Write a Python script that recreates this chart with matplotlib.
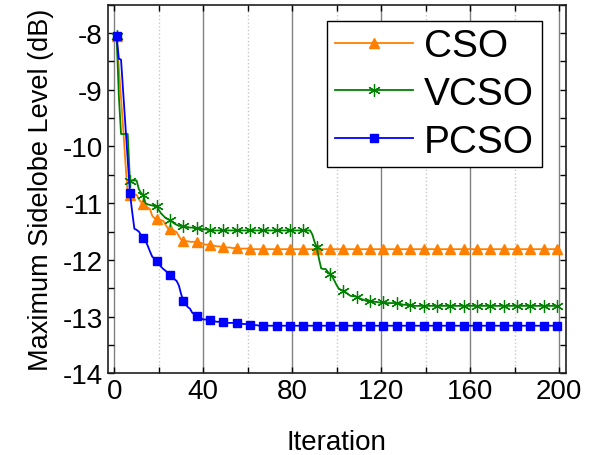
import numpy as np
import matplotlib
matplotlib.use('Agg')
import matplotlib.pyplot as plt
from matplotlib.ticker import MultipleLocator

plt.rcParams['font.family'] = ['Liberation Sans', 'DejaVu Sans']
plt.rcParams['axes.unicode_minus'] = False

# iterations 1..200
iterations = np.arange(1, 201)

# CSO convergence (dB)
cso = ([-8.05, -8.6, -9.16, -9.7, -10.3, -10.85, -10.85, -10.85, -10.85, -10.85,
        -10.93, -10.98, -11.02, -11.05, -11.08, -11.10, -11.22, -11.26, -11.28, -11.29,
        -11.30, -11.31, -11.38, -11.44, -11.45, -11.47, -11.49, -11.51, -11.58, -11.64,
        -11.66, -11.67, -11.67, -11.68, -11.68, -11.68, -11.68, -11.69, -11.70, -11.72,
        -11.73, -11.73, -11.73, -11.74, -11.75, -11.76, -11.76, -11.77, -11.77, -11.78,
        -11.78, -11.78, -11.79, -11.79, -11.79, -11.80, -11.80, -11.80, -11.80, -11.80,
        -11.80] + [-11.81] * 139)

# VCSO convergence (dB)
vcso = ([-8.05, -9.1, -9.78, -9.78, -9.78, -9.78, -10.6, -10.6, -10.6, -10.6,
         -10.75, -10.82, -10.86, -11.0, -11.02, -11.03, -11.04, -11.05, -11.05, -11.12,
         -11.18, -11.22, -11.26, -11.28, -11.30, -11.33, -11.36, -11.38, -11.40, -11.40,
         -11.41, -11.42, -11.42, -11.43, -11.43, -11.44, -11.44, -11.45, -11.45, -11.46,
         -11.46, -11.47, -11.47] + [-11.48] * 45 +
        [-11.55, -11.68, -11.78, -11.98, -12.15, -12.16, -12.16, -12.21, -12.25, -12.30,
         -12.37, -12.45, -12.51, -12.53, -12.54, -12.57, -12.60, -12.63, -12.64, -12.64,
         -12.65, -12.67, -12.69, -12.70, -12.72, -12.73, -12.73, -12.74, -12.74, -12.74,
         -12.75, -12.75, -12.75, -12.76, -12.76, -12.76, -12.76, -12.76, -12.76, -12.77,
         -12.78, -12.79, -12.79, -12.80, -12.80] + [-12.81] * 67)

# PCSO convergence (dB)
pcso = ([-8.05, -8.45, -8.47, -9.05, -9.65, -10.25, -10.82, -11.15, -11.45, -11.47,
         -11.50, -11.56, -11.62, -11.66, -11.75, -11.85, -11.94, -11.98, -12.01, -12.06,
         -12.12, -12.16, -12.19, -12.23, -12.26, -12.30, -12.34, -12.37, -12.45, -12.60,
         -12.72, -12.78, -12.83, -12.86, -12.93, -12.96, -12.98, -13.01, -13.03, -13.05,
         -13.05, -13.05, -13.06, -13.07, -13.08, -13.09, -13.09, -13.10, -13.10, -13.11,
         -13.11, -13.11, -13.11, -13.11, -13.11, -13.12, -13.12, -13.13, -13.13, -13.13,
         -13.14, -13.15, -13.15, -13.15, -13.16, -13.16, -13.16] + [-13.16] * 133)

fig = plt.figure(figsize=(5.95, 4.56), dpi=100)
ax = fig.add_axes([0.181, 0.179, 0.77, 0.8085])

ax.plot(iterations, cso, color='#FF8000', marker='^', markersize=7.5, markevery=6,
        linewidth=1.3, label='CSO')
ax.plot(iterations, vcso, color='green', marker=(6, 2, 0), markersize=9, markevery=6,
        markeredgewidth=0.9, linewidth=1.3, label='VCSO')
ax.plot(iterations, pcso, color='blue', marker='s', markersize=6, markevery=6,
        linewidth=1.3, label='PCSO')

ax.set_xlim(-3, 203)
ax.set_ylim(-14, -7.5)
ax.xaxis.set_major_locator(MultipleLocator(40))
ax.xaxis.set_minor_locator(MultipleLocator(20))
ax.yaxis.set_major_locator(MultipleLocator(1))
ax.yaxis.set_minor_locator(MultipleLocator(0.5))

ax.grid(True, axis='x', which='major', color='#808080', linestyle='-', linewidth=1)
ax.grid(True, axis='x', which='minor', color='#c8c8c8', linestyle=':', linewidth=1)

ax.tick_params(which='both', direction='in', top=True, right=True,
               length=4.5, width=1, labelsize=20)
for s in ax.spines.values():
    s.set_linewidth(1.2)
    s.set_color('#202020')

ax.set_xlabel('Iteration', fontsize=20, labelpad=18)
ax.set_ylabel('Maximum Sidelobe Level (dB)', fontsize=19.5, labelpad=6)

leg = ax.legend(loc='upper right', bbox_to_anchor=(0.948, 0.957), borderaxespad=0,
                fontsize=28, fancybox=False, edgecolor='black', framealpha=1,
                handlelength=2.0, labelspacing=0.3, numpoints=1, handletextpad=0.3,
                borderpad=0.2)
leg.get_frame().set_linewidth(1)

fig.savefig('out.png', dpi=100)
